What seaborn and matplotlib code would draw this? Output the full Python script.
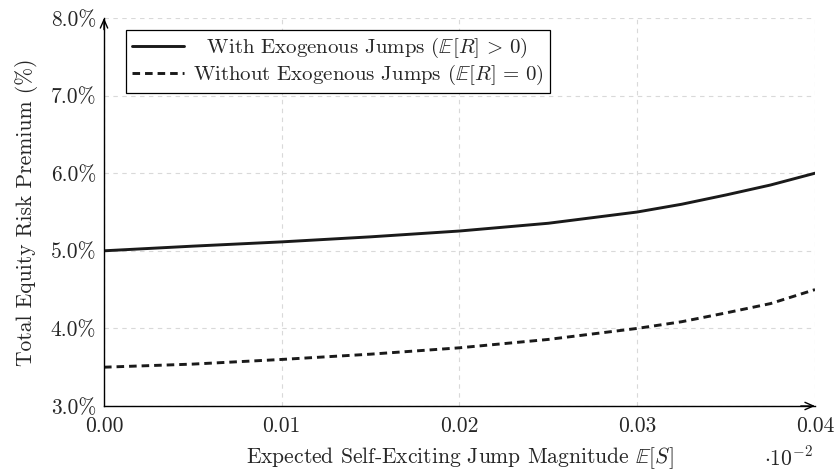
import matplotlib
matplotlib.use("Agg")
import matplotlib.pyplot as plt
import seaborn as sns
import pandas as pd
from matplotlib.ticker import FixedLocator, FuncFormatter

# ---- data ----
x_vals = [0.0, 0.005, 0.01, 0.015, 0.02, 0.025, 0.03, 0.0325, 0.035, 0.0375, 0.04]
with_jumps = [5.0, 5.06, 5.115, 5.18, 5.255, 5.355, 5.5, 5.60, 5.72, 5.848, 6.0]
without_jumps = [3.5, 3.54, 3.60, 3.668, 3.75, 3.858, 4.0, 4.086, 4.2, 4.32, 4.5]
series_labels = [r"With Exogenous Jumps ($\mathbb{E}[R] \,>\, 0$)",
                 r"Without Exogenous Jumps ($\mathbb{E}[R] \,=\, 0$)"]
x_ticks = [0.0, 0.01, 0.02, 0.03, 0.04]
y_ticks = [3.0, 4.0, 5.0, 6.0, 7.0, 8.0]

df = pd.DataFrame({
    "x": x_vals + x_vals,
    "y": with_jumps + without_jumps,
    "series": [series_labels[0]] * len(x_vals) + [series_labels[1]] * len(x_vals),
})

sns.set_theme(style="white")
plt.rcParams["font.family"] = ["cmr10"]
plt.rcParams["mathtext.fontset"] = "cm"
plt.rcParams["axes.unicode_minus"] = False
plt.rcParams["axes.formatter.use_mathtext"] = True

FS = 15.5

fig = plt.figure(figsize=(8.37, 4.70), dpi=100)
ax = fig.add_axes([104 / 837, 1 - 406 / 470, 711 / 837, 388 / 470])

sns.lineplot(data=df, x="x", y="y", hue="series", style="series",
             palette=["#1a1a1a", "#1a1a1a"],
             dashes={series_labels[0]: "", series_labels[1]: (2.6, 1.7)},
             linewidth=2.1, ax=ax, legend=True)

ax.set_xlim(0.0, 0.04)
ax.set_ylim(3.0, 8.0)
ax.xaxis.set_major_locator(FixedLocator(x_ticks))
ax.yaxis.set_major_locator(FixedLocator(y_ticks))
ax.xaxis.set_major_formatter(FuncFormatter(lambda v, p: f"{v:.2f}"))
ax.yaxis.set_major_formatter(FuncFormatter(lambda v, p: f"{v:.1f}%"))

ax.grid(True, color="#d9d9d9", linestyle=(0, (4, 4)), linewidth=0.8)
ax.set_axisbelow(True)

for s in ["top", "right"]:
    ax.spines[s].set_visible(False)
for s in ["left", "bottom"]:
    ax.spines[s].set_color("black")
    ax.spines[s].set_linewidth(1.0)

ax.tick_params(axis="both", which="major", direction="inout", length=5,
               width=0.8, color="black", labelsize=FS)
ax.tick_params(axis="x", pad=5)
ax.tick_params(axis="y", pad=3)

# axis arrows
arrow_kw = dict(arrowstyle="->,head_length=0.5,head_width=0.22", color="black",
                lw=1.0, shrinkA=0, shrinkB=0)
ax.annotate("", xy=(1.0, 0.0), xytext=(0.98, 0.0), xycoords="axes fraction",
            arrowprops=arrow_kw, annotation_clip=False)
ax.annotate("", xy=(0.0, 1.0), xytext=(0.0, 0.97), xycoords="axes fraction",
            arrowprops=arrow_kw, annotation_clip=False)

ax.set_xlabel(r"Expected Self-Exciting Jump Magnitude $\mathbb{E}[S]$",
              fontsize=FS, labelpad=7)
ax.set_ylabel("Total Equity Risk Premium (%)", fontsize=FS, labelpad=9)
ax.text(0.962, -0.134, r"$\cdot 10^{-2}$", transform=ax.transAxes,
        fontsize=FS, ha="center", va="center")

leg = ax.legend(loc="upper left", bbox_to_anchor=(0.031, 0.969),
                borderaxespad=0, fontsize=15, frameon=True, fancybox=False,
                edgecolor="black", framealpha=1, handlelength=2.5,
                handletextpad=0.4, labelspacing=0.12, borderpad=0.3)
leg.get_frame().set_linewidth(0.9)
leg.set_title(None)
leg.get_texts()[0].set_text("  " + series_labels[0])

fig.savefig("out.png", dpi=100)
